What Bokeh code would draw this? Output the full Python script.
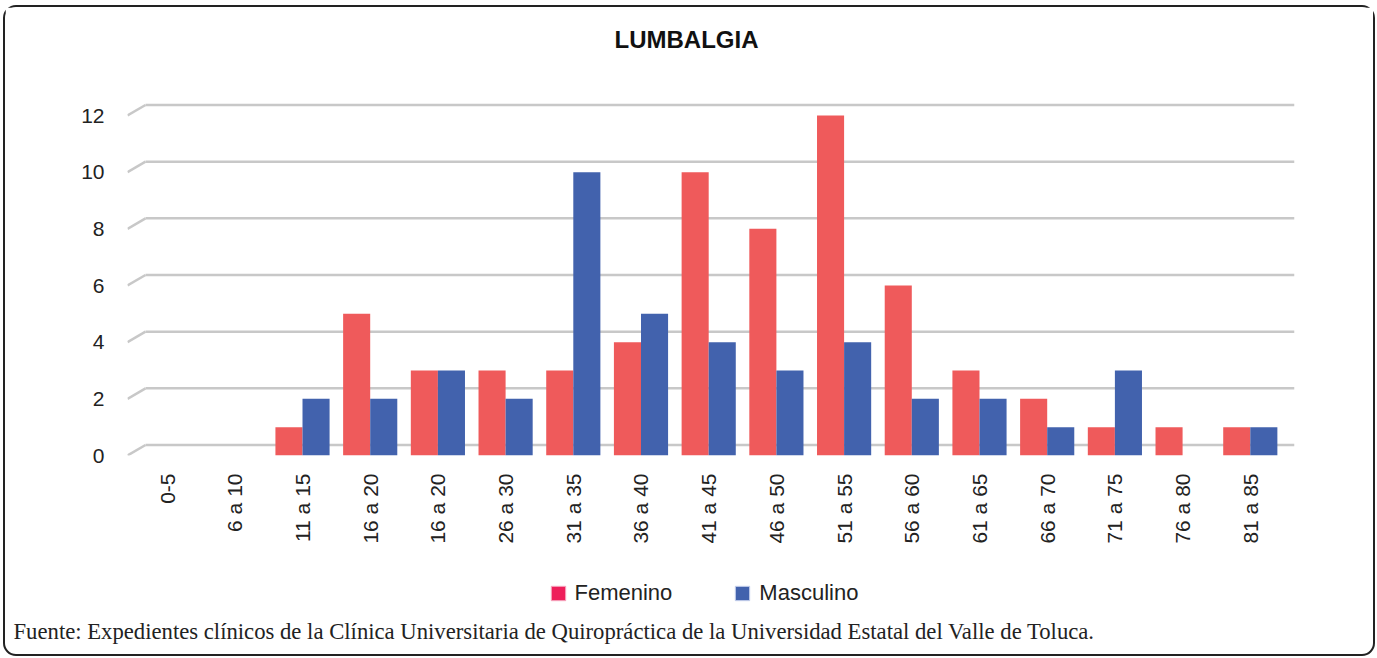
import math
from bokeh.plotting import figure
from bokeh.models import (ColumnDataSource, FixedTicker, Legend, LegendItem,
                          Range1d, Label, Div)
from bokeh.layouts import column
from bokeh.embed import file_html
from bokeh.resources import INLINE

categories = ["0-5", "6 a 10", "11 a 15", "16 a 20", "16 a 20", "26 a 30",
              "31 a 35", "36 a 40", "41 a 45", "46 a 50", "51 a 55", "56 a 60",
              "61 a 65", "66 a 70", "71 a 75", "76 a 80", "81 a 85"]
femenino = [0, 0, 1, 5, 3, 3, 3, 4, 10, 8, 12, 6, 3, 2, 1, 1, 1]
masculino = [0, 0, 2, 2, 3, 2, 10, 5, 4, 3, 4, 2, 2, 1, 3, 0, 1]
y_ticks = [0, 2, 4, 6, 8, 10, 12]
series_names = ["Femenino", "Masculino"]
chart_title = "LUMBALGIA"
source_note = ("Fuente: Expedientes clínicos de la Clínica Universitaria "
               "de Quiropráctica de la Universidad Estatal del Valle de Toluca.")

RED = "#ef5a5b"
BLUE = "#4262ad"
PINK = "#ee1e5a"
GRID = "#c8c8c8"
FONT = "Liberation Sans"
W = 1368
BL, BR = 122, 79          # shared left / right borders of every strip
X0 = 5.5                  # page offset of the figures (margin + border)
FL, FR = X0 + BL, X0 + W - BR   # frame edges in page pixels

X_START, X_END = -0.585, 16.653
Y_END = 12.565
DX, DY = 0.266, 0.37      # depth of the pseudo-3D back wall (axis units)


def strip(height, top_page):
    """A figure whose data coordinates are page pixels."""
    f = figure(width=W, height=height,
               x_range=Range1d(FL, FR),
               y_range=Range1d(top_page + height, top_page),
               output_backend="svg", toolbar_location=None,
               x_axis_location=None, y_axis_location=None,
               min_border_left=BL, min_border_right=BR,
               min_border_top=0, min_border_bottom=0)
    f.outline_line_color = None
    f.grid.grid_line_color = None
    f.background_fill_color = "white"
    f.border_fill_color = "white"
    return f


# ---------------- title strip ----------------
t = strip(60, 7.5)
t.add_layout(Label(x=686.5, y=39.5, text=chart_title, text_font=FONT,
                   text_font_size="24px", text_font_style="bold",
                   text_color="#111111", text_align="center",
                   text_baseline="middle"))

# ---------------- main chart ----------------
idx = list(range(len(categories)))
src = ColumnDataSource(dict(
    xf=[i - 0.2 for i in idx], xm=[i + 0.2 for i in idx],
    fem=femenino, mas=masculino))

p = figure(width=W, height=498,
           x_range=Range1d(X_START, X_END), y_range=Range1d(0, Y_END),
           output_backend="svg", toolbar_location=None,
           min_border_left=BL, min_border_right=BR,
           min_border_top=32, min_border_bottom=110)
p.outline_line_color = None
p.background_fill_color = "white"
p.border_fill_color = "white"
p.grid.grid_line_color = None

# pseudo-3D gridlines: back wall lines plus the diagonal floor stubs
grid_src = ColumnDataSource(dict(
    x0=[X_START + DX] * len(y_ticks), x1=[X_END] * len(y_ticks),
    xs=[X_START] * len(y_ticks),
    y=y_ticks, yb=[v + DY for v in y_ticks]))
p.segment(x0="x0", y0="yb", x1="x1", y1="yb", source=grid_src,
          line_color=GRID, line_width=2.5)
p.segment(x0="xs", y0="y", x1="x0", y1="yb", source=grid_src,
          line_color=GRID, line_width=2.5)

p.vbar(x="xf", top="fem", width=0.4, source=src, fill_color=RED,
       line_color=None)
p.vbar(x="xm", top="mas", width=0.4, source=src, fill_color=BLUE,
       line_color=None)

p.xaxis.ticker = FixedTicker(ticks=idx)
p.xaxis.major_label_overrides = {i: c for i, c in enumerate(categories)}
p.xaxis.major_label_orientation = math.pi / 2
p.xaxis.major_label_standoff = 18
p.xaxis.major_label_text_font = FONT
p.xaxis.major_label_text_font_size = "21px"
p.xaxis.major_label_text_color = "#222222"
p.xaxis.axis_line_color = None
p.xaxis.major_tick_line_color = None
p.xaxis.major_tick_out = 0
p.xaxis.major_tick_in = 0
p.xaxis.minor_tick_line_color = None

p.yaxis.ticker = FixedTicker(ticks=y_ticks)
p.yaxis.major_label_standoff = 23
p.yaxis.major_tick_out = 0
p.yaxis.major_tick_in = 0
p.yaxis.major_label_text_font = FONT
p.yaxis.major_label_text_font_size = "21px"
p.yaxis.major_label_text_color = "#222222"
p.yaxis.axis_line_color = None
p.yaxis.major_tick_line_color = None
p.yaxis.minor_tick_line_color = None

# ---------------- legend strip ----------------
b = strip(52, 565.5)
hidden = ColumnDataSource(dict(l=[-5000], r=[-4990], t=[-5000], b=[-4990]))
rf = b.quad(left="l", right="r", top="t", bottom="b", source=hidden,
            fill_color=PINK, line_color="#f6a8bf")
rm = b.quad(left="l", right="r", top="t", bottom="b", source=hidden,
            fill_color=BLUE, line_color="#c9d3ee")
legend = Legend(items=[LegendItem(label=series_names[0], renderers=[rf]),
                       LegendItem(label=series_names[1], renderers=[rm])],
                orientation="horizontal", location=(421.5, 11.5),
                padding=0, margin=0, spacing=61, label_standoff=8,
                glyph_width=18, glyph_height=18, label_height=18,
                border_line_color=None, background_fill_alpha=0,
                label_text_font=FONT, label_text_font_size="22px",
                label_text_color="#222222")
b.add_layout(legend, "center")

# ---------------- source note ----------------
note = Div(text=source_note, width=W, height=37,
           styles={"font-family": "Liberation Serif", "font-size": "22.7px",
                   "line-height": "30px", "color": "#222222",
                   "padding-left": "8.5px", "white-space": "nowrap",
                   "margin": "0px"})

layout = column(t, p, b, note, spacing=0,
                styles={"border": "2.5px solid #222222",
                        "border-radius": "13px",
                        "margin-left": "3px", "margin-top": "5px",
                        "background-color": "white"})

open("out.html", "w").write(file_html(layout, INLINE))
